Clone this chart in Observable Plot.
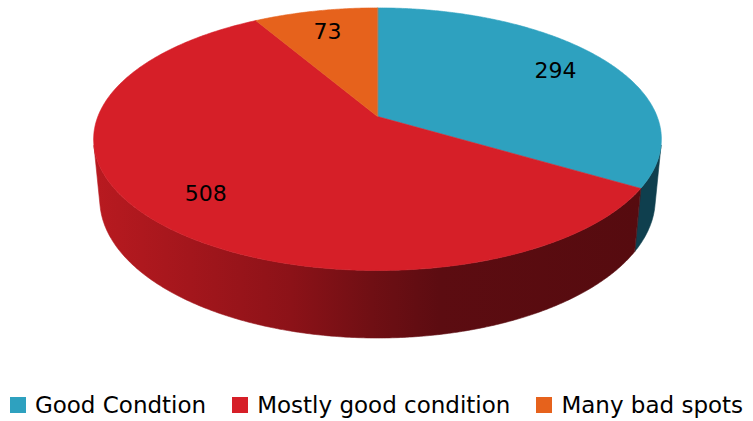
<!DOCTYPE html>
<html>
<head>
<meta charset="utf-8">
<script src="https://cdn.jsdelivr.net/npm/d3@7"></script>
<script src="https://cdn.jsdelivr.net/npm/@observablehq/plot@0.6"></script>
<style>
  html, body { margin: 0; padding: 0; background: #fff; }
  #wrap { width: 753px; height: 421px; overflow: hidden; font-family: "DejaVu Sans", sans-serif; }
  #legend { height: 33px; display: flex; justify-content: center; align-items: center; font-size: 23px; color: #000; }
  .item { display: flex; align-items: center; margin: 0 13px; white-space: nowrap; }
  .sw { width: 16px; height: 16px; margin-right: 9px; display: inline-block; }
</style>
</head>
<body>
<div id="wrap"><div id="chart"></div><div id="legend"></div></div>
<script>
// ---- data ----
const categories = ["Good Condtion", "Mostly good condition", "Many bad spots"];
const values = [294, 508, 73];
const topColors = ["#2ea1bf", "#d61f28", "#e6621c"];
const sideColors = ["#0f3f4e", "url(#redSide)", "#7a3410"];

// ---- 3D pie projection (perspective) ----
const rad = Math.PI / 180;
const alpha = 27.1 * rad, D = 5.15, F = 1440, H = 0.2435;
const sa = Math.sin(alpha), ca = Math.cos(alpha);
function proj(X, Y, Z) {
  const depth = D - Y * sa + Z * ca;
  return { x: F * X / depth, y: -F * (Y * ca + Z * sa) / depth };
}
const arcs = d3.pie().sort(null)(values);
const step = 0.5 * rad;
function sampleAngles(a0, a1) {
  const out = [];
  const n = Math.max(2, Math.ceil((a1 - a0) / step));
  for (let i = 0; i <= n; i++) out.push(a0 + (a1 - a0) * i / n);
  return out;
}
// top faces
const tops = arcs.map((a, i) => {
  const pts = [{ ...proj(0, 0, 0), k: i }];
  for (const t of sampleAngles(a.startAngle, a.endAngle)) pts.push({ ...proj(Math.sin(t), 0, Math.cos(t)), k: i });
  return pts;
});
// visible side walls
const vs = Math.acos(-1 / (D * ca)), ve = 2 * Math.PI - vs;
const walls = [];
arcs.forEach((a, i) => {
  const t0 = Math.max(a.startAngle, vs), t1 = Math.min(a.endAngle, ve);
  if (t0 >= t1) return;
  const ang = sampleAngles(t0, t1);
  const pts = [];
  for (const t of ang) pts.push({ ...proj(Math.sin(t), 0, Math.cos(t)), k: i });
  for (const t of ang.slice().reverse()) pts.push({ ...proj(Math.sin(t), -H, Math.cos(t)), k: i });
  walls.push({ i, pts });
});
// labels
const labelR = 0.78;
const labels = arcs.map((a, i) => {
  const t = (a.startAngle + a.endAngle) / 2;
  return { ...proj(labelR * Math.sin(t), 0, labelR * Math.cos(t)), text: String(values[i]) };
});

const marks = [];
for (const w of walls) {
  marks.push(Plot.line(w.pts, { x: "x", y: "y", curve: "linear-closed", fill: sideColors[w.i], stroke: sideColors[w.i], strokeWidth: 0.6 }));
}
tops.forEach((pts, i) => {
  marks.push(Plot.line(pts, { x: "x", y: "y", curve: "linear-closed", fill: topColors[i], stroke: topColors[i], strokeWidth: 0.6 }));
});
marks.push(Plot.text(labels, { x: "x", y: "y", text: "text", fontSize: 22, fill: "#000", fontFamily: "DejaVu Sans" }));

const chart = Plot.plot({
  width: 753, height: 388,
  margin: 0,
  x: { domain: [-377, 376], range: [0, 753], axis: null },
  y: { domain: [-116, 272], range: [0, 388], axis: null },
  style: { background: "#fff", fontFamily: "DejaVu Sans" },
  marks
});
// gradient for the red side wall
const defs = d3.select(chart).insert("defs", ":first-child");
const g = defs.append("linearGradient").attr("id", "redSide")
  .attr("gradientUnits", "userSpaceOnUse").attr("x1", 95).attr("x2", 640).attr("y1", 0).attr("y2", 0);
[[0, "#b81a20"], [0.174, "#a3161c"], [0.358, "#8c1218"], [0.505, "#700f14"], [0.633, "#5c0c11"], [1, "#560b0f"]]
  .forEach(([o, c]) => g.append("stop").attr("offset", o).attr("stop-color", c));
document.getElementById("chart").appendChild(chart);

const legend = d3.select("#legend");
categories.forEach((c, i) => {
  const it = legend.append("div").attr("class", "item");
  it.append("span").attr("class", "sw").style("background", topColors[i]);
  it.append("span").text(c);
});
</script>
</body>
</html>
